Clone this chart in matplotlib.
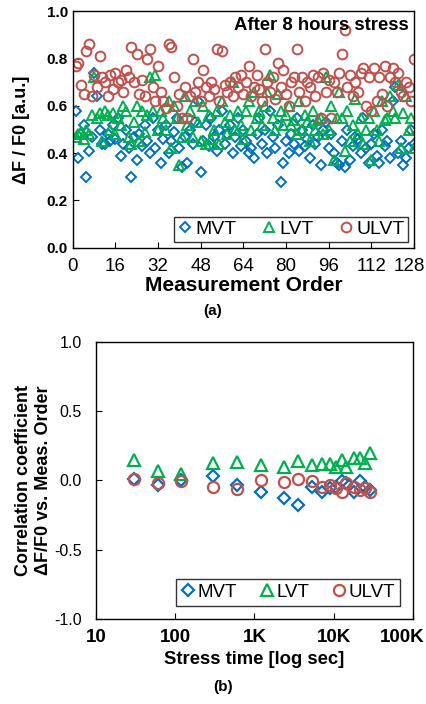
import matplotlib
matplotlib.use("Agg")
import matplotlib.pyplot as plt
import matplotlib.transforms as mtransforms
import numpy as np

plt.rcParams['font.family'] = ['Liberation Sans', 'DejaVu Sans']

BLUE = "#0070C0"
GREEN = "#00B050"
RED = "#C0504D"

# (a) dF/F0 vs measurement order, after 8 hours stress
order = np.arange(1, 129)
mvt = [0.58, 0.38, 0.48, 0.52, 0.30, 0.41, 0.47, 0.74, 0.64, 0.50, 0.44, 0.44, 0.48, 0.45, 0.52, 0.46,
       0.55, 0.39, 0.44, 0.50, 0.42, 0.30, 0.47, 0.37, 0.48, 0.43, 0.52, 0.45, 0.40, 0.55, 0.42, 0.50,
       0.36, 0.46, 0.52, 0.40, 0.45, 0.49, 0.55, 0.42, 0.34, 0.47, 0.36, 0.50, 0.44, 0.53, 0.62, 0.32,
       0.45, 0.52, 0.43, 0.55, 0.47, 0.41, 0.50, 0.58, 0.44, 0.48, 0.52, 0.40, 0.47, 0.55, 0.43, 0.50,
       0.45, 0.40, 0.42, 0.38, 0.48, 0.55, 0.44, 0.50, 0.40, 0.58, 0.47, 0.42, 0.52, 0.28, 0.36, 0.45,
       0.40, 0.48, 0.44, 0.55, 0.41, 0.50, 0.43, 0.46, 0.38, 0.52, 0.44, 0.47, 0.35, 0.50, 0.53, 0.42,
       0.48, 0.40, 0.36, 0.35, 0.45, 0.34, 0.50, 0.37, 0.43, 0.47, 0.46, 0.40, 0.55, 0.42, 0.36, 0.44,
       0.48, 0.39, 0.36, 0.50, 0.43, 0.45, 0.38, 0.62, 0.68, 0.40, 0.45, 0.35, 0.38, 0.42, 0.50, 0.44]
lvt = [0.47, 0.48, 0.49, 0.46, 0.50, 0.48, 0.56, 0.72, 0.55, 0.57, 0.45, 0.58, 0.56, 0.50, 0.57, 0.48,
       0.55, 0.52, 0.60, 0.58, 0.47, 0.44, 0.53, 0.60, 0.45, 0.58, 0.49, 0.56, 0.72, 0.58, 0.73, 0.50,
       0.58, 0.55, 0.50, 0.62, 0.42, 0.60, 0.55, 0.35, 0.47, 0.64, 0.52, 0.58, 0.47, 0.62, 0.53, 0.45,
       0.60, 0.44, 0.56, 0.46, 0.50, 0.58, 0.44, 0.62, 0.53, 0.48, 0.56, 0.70, 0.50, 0.58, 0.52, 0.46,
       0.58, 0.62, 0.50, 0.66, 0.55, 0.58, 0.52, 0.60, 0.66, 0.73, 0.55, 0.50, 0.65, 0.58, 0.52, 0.56,
       0.60, 0.52, 0.54, 0.48, 0.62, 0.50, 0.56, 0.53, 0.45, 0.58, 0.50, 0.54, 0.55, 0.48, 0.72, 0.50,
       0.60, 0.37, 0.55, 0.66, 0.55, 0.41, 0.58, 0.45, 0.52, 0.63, 0.48, 0.55, 0.44, 0.50, 0.55, 0.37,
       0.58, 0.50, 0.45, 0.62, 0.54, 0.55, 0.64, 0.58, 0.55, 0.69, 0.42, 0.57, 0.64, 0.50, 0.55, 0.42]
ulvt = [0.77, 0.78, 0.69, 0.65, 0.83, 0.86, 0.64, 0.73, 0.68, 0.81, 0.72, 0.70, 0.64, 0.73, 0.67, 0.74,
        0.70, 0.71, 0.66, 0.75, 0.72, 0.85, 0.70, 0.82, 0.65, 0.71, 0.64, 0.80, 0.84, 0.68, 0.62, 0.77,
        0.66, 0.62, 0.59, 0.86, 0.85, 0.72, 0.60, 0.65, 0.55, 0.68, 0.55, 0.64, 0.80, 0.66, 0.70, 0.62,
        0.75, 0.68, 0.64, 0.70, 0.67, 0.84, 0.62, 0.83, 0.69, 0.66, 0.70, 0.64, 0.72, 0.68, 0.73, 0.65,
        0.70, 0.77, 0.64, 0.68, 0.73, 0.67, 0.62, 0.84, 0.70, 0.66, 0.72, 0.63, 0.78, 0.68, 0.75, 0.65,
        0.60, 0.70, 0.72, 0.84, 0.66, 0.72, 0.62, 0.70, 0.68, 0.73, 0.64, 0.72, 0.55, 0.74, 0.66, 0.71,
        0.55, 0.70, 0.66, 0.74, 0.82, 0.92, 0.68, 0.73, 0.64, 0.70, 0.66, 0.74, 0.76, 0.60, 0.72, 0.58,
        0.76, 0.62, 0.72, 0.65, 0.77, 0.60, 0.72, 0.76, 0.70, 0.74, 0.66, 0.64, 0.70, 0.68, 0.62, 0.80]

# (b) correlation coefficient vs stress time
stress_time = [30, 60, 120, 300, 600, 1200, 2400, 3600, 5400, 7200, 9000,
               10800, 12600, 14400, 18000, 21600, 25200, 28800]
corr_mvt = [0.01, -0.03, 0.00, 0.03, -0.03, -0.08, -0.13, -0.18, -0.05, -0.085, -0.055,
            -0.045, -0.005, -0.02, -0.085, -0.005, -0.045, -0.07]
corr_lvt = [0.15, 0.065, 0.05, 0.125, 0.13, 0.11, 0.10, 0.14, 0.11, 0.12, 0.12,
            0.10, 0.15, 0.10, 0.165, 0.165, 0.125, 0.20]
corr_ulvt = [0.01, -0.015, -0.005, -0.05, -0.06, 0.00, -0.01, 0.01, -0.005, -0.045, -0.035,
             -0.055, -0.085, -0.015, -0.045, -0.07, -0.055, -0.085]

fig = plt.figure(figsize=(4.26, 7.04), dpi=100)


def pin_last_label(ax, fig, shift_px):
    # right-most tick label hugs the figure edge instead of being clipped
    lab = ax.get_xticklabels()[-1]
    lab.set_ha("right")
    lab.set_transform(lab.get_transform()
                      + mtransforms.ScaledTranslation(shift_px / 100, 0, fig.dpi_scale_trans))


# ---- top panel ----
ax1 = fig.add_axes([0.171, 0.648, 0.801, 0.336])
mk = dict(linestyle="none", markerfacecolor="none", markeredgewidth=1.4)
ax1.plot(order, mvt, marker="D", markersize=5, color=BLUE, label="MVT", **mk)
ax1.plot(order, lvt, marker="^", markersize=7, color=GREEN, label="LVT", **mk)
ax1.plot(order, ulvt, marker="o", markersize=7, color=RED, label="ULVT", **mk)
ax1.set_xlim(0, 128)
ax1.set_ylim(0, 1.0)
ax1.set_xticks(range(0, 129, 16))
ax1.set_xticklabels([str(v) for v in range(0, 129, 16)])
ax1.set_yticks(np.arange(0, 1.01, 0.2))
ax1.set_yticklabels(["0.0", "0.2", "0.4", "0.6", "0.8", "1.0"], fontweight="bold")
ax1.tick_params(direction="in", labelsize=11, length=4)
ax1.tick_params(axis="x", labelsize=13.5, pad=7)
pin_last_label(ax1, fig, 11)
ax1.set_xlabel("Measurement Order", fontsize=15, fontweight="bold", labelpad=1)
ax1.set_ylabel("ΔF / F0 [a.u.]", fontsize=13, fontweight="bold", labelpad=12)
ax1.text(0.985, 0.975, "After 8 hours stress", transform=ax1.transAxes,
         ha="right", va="top", fontsize=13.3, fontweight="bold")
leg1 = ax1.legend(loc="lower right", ncol=3, fontsize=14, frameon=True, fancybox=False,
                  edgecolor="black", handlelength=0.8, handletextpad=0.1,
                  columnspacing=1.3, borderaxespad=0.3, borderpad=0.2)
leg1.get_frame().set_linewidth(1.0)
fig.text(0.5, 1 - 311 / 704, "(a)", ha="center", va="center",
         fontsize=11, fontweight="bold")

# ---- bottom panel ----
ax2 = fig.add_axes([0.225, 0.121, 0.744, 0.393])
mk2 = dict(linestyle="none", markerfacecolor="none", markeredgewidth=1.6)
ax2.plot(stress_time, corr_mvt, marker="D", markersize=6, color=BLUE, label="MVT", **mk2)
ax2.plot(stress_time, corr_lvt, marker="^", markersize=8, color=GREEN, label="LVT", **mk2)
ax2.plot(stress_time, corr_ulvt, marker="o", markersize=8, color=RED, label="ULVT", **mk2)
ax2.set_xscale("log")
ax2.set_xlim(10, 100000)
ax2.set_ylim(-1.0, 1.0)
ax2.set_xticks([10, 100, 1000, 10000, 100000])
ax2.set_xticklabels(["10", "100", "1K", "10K", "100K"], fontweight="bold")
ax2.minorticks_off()
ax2.set_yticks([-1.0, -0.5, 0.0, 0.5, 1.0])
ax2.set_yticklabels(["-1.0", "-0.5", "0.0", "0.5", "1.0"])
ax2.tick_params(direction="in", labelsize=11.5, length=4)
ax2.tick_params(axis="y", pad=10)
ax2.tick_params(axis="x", labelsize=13.5, pad=7)
pin_last_label(ax2, fig, 12)
ax2.set_xlabel("Stress time [log sec]", fontsize=13.3, fontweight="bold", labelpad=4)
ax2.set_ylabel("Correlation coefficient\nΔF/F0 vs. Meas. Order", fontsize=13,
               fontweight="bold", labelpad=2)
leg2 = ax2.legend(loc="lower right", ncol=3, fontsize=13.5, frameon=True, fancybox=False,
                  edgecolor="black", handlelength=0.8, handletextpad=0.1,
                  columnspacing=1.2, borderaxespad=0.7, borderpad=0.25)
leg2.get_frame().set_linewidth(1.0)
fig.text(0.523, 1 - 687 / 704, "(b)", ha="center", va="center",
         fontsize=11, fontweight="bold")

for ax in (ax1, ax2):
    for s in ax.spines.values():
        s.set_linewidth(1.0)

fig.savefig("out.png", dpi=100)
